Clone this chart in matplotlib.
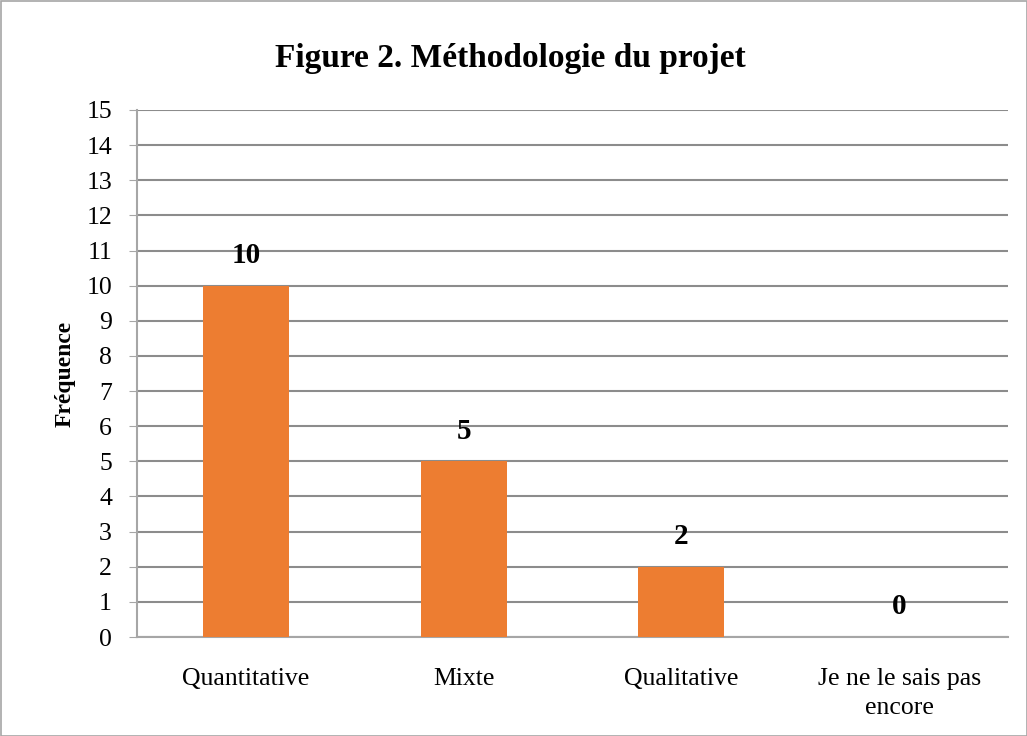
import matplotlib
matplotlib.use("Agg")
import matplotlib.pyplot as plt
from matplotlib.patches import Rectangle

categories = ["Quantitative", "Mixte", "Qualitative", "Je ne le sais pas\nencore"]
values = [10, 5, 2, 0]
yticks = list(range(0, 16))

plt.rcParams['font.family'] = ['Liberation Serif', 'DejaVu Serif']

W, H = 1027, 736
fig = plt.figure(figsize=(W/100, H/100), dpi=100)
ax = fig.add_axes([137/W, 1-637/H, (1008-137)/W, (637-110)/H])

x = range(len(categories))
ax.bar(x, values, width=0.395, color="#ED7D31", zorder=3)
for xi, v in zip(x, values):
    ax.annotate(str(v), (xi, v), xytext=(0, 12), textcoords="offset points",
                ha="center", va="bottom", fontsize=21, fontweight="bold")

ax.set_xlim(-0.5, 3.5)
ax.set_ylim(0, 15)
ax.set_yticks(yticks)
ax.set_xticks(list(x))
ax.set_xticklabels(categories, fontsize=18.5, linespacing=1.45)
ax.tick_params(axis='y', labelsize=18.5, length=6, color="#A6A6A6", pad=12)
ax.tick_params(axis='x', length=0, pad=22)
ax.grid(axis='y', color="#8C8C8C", linewidth=1.5, zorder=0)
for s in ["top", "right"]:
    ax.spines[s].set_visible(False)
ax.spines["left"].set_color("#A6A6A6")
ax.spines["left"].set_linewidth(1.5)
ax.spines["bottom"].set_color("#A6A6A6")
ax.spines["bottom"].set_linewidth(1.5)

ax.set_ylabel("Fréquence", fontsize=17, fontweight="bold", labelpad=8)
fig.text(510/W, 1-58/H, "Figure 2. Méthodologie du projet", ha="center", va="center",
         fontsize=24, fontweight="bold")

fig.patches.append(Rectangle((0.5/W, 0.5/H), 1-1/W, 1-1/H, transform=fig.transFigure,
                             fill=False, edgecolor="#A6A6A6", linewidth=1.2))

fig.savefig("out.png", dpi=100)
